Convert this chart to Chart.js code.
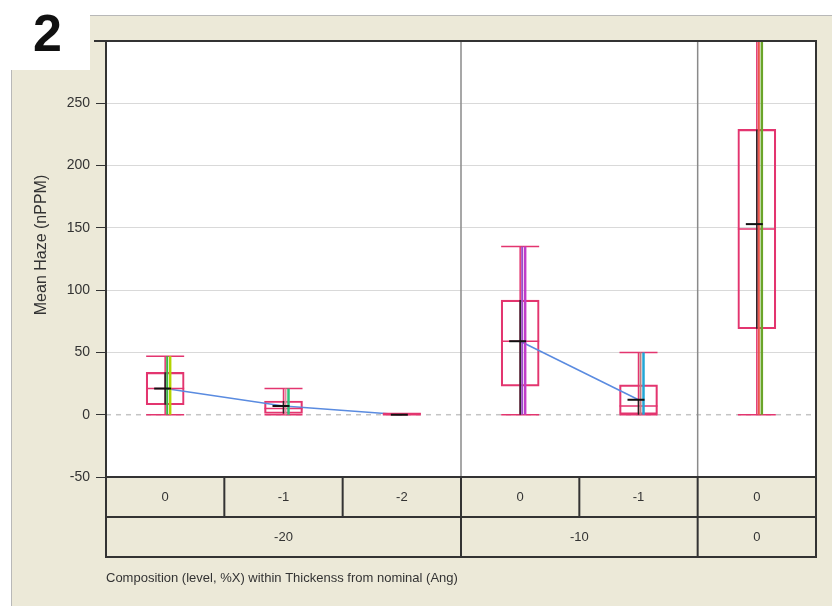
<!DOCTYPE html>
<html>
<head>
<meta charset="utf-8">
<script src="https://cdn.jsdelivr.net/npm/chart.js@4.4.0/dist/chart.umd.min.js"></script>
<style>
  body { margin: 0; background: #fff; }
  #wrap { width: 832px; height: 606px; }
</style>
</head>
<body>
<div id="wrap"><canvas id="haze" width="832" height="606"></canvas></div>
<script>
// composition level (inner) and thickness (outer) per cell
const levels = ["0", "-1", "-2", "0", "-1", "0"];
const thickness = ["-20", "-20", "-20", "-10", "-10", "0"];

// box plot summary, Mean Haze (nPPM)
const whiskerLo = [0, 0, 0, 0, 0, 0];
const whiskerHi = [47, 21, 1, 135, 50, 340];
const q1 = [8, 1, 0, 23, 0, 69];
const q3 = [34, 11, 1, 92, 24, 229];
const medians = [21, 5, 0, 59, 7, 149];
const means = [21, 7, 0, 59, 12, 153];
const sdLo = [8, 1, 0, 0, 0, 69];
const sdHi = [34, 11, 0, 92, 12, 229];

// range lines drawn next to each box
const rangeHi = [47, 21, 0, 135, 50, 340];
const rangeColor = ["#b4d400", "#2fc07a", "#8080c0", "#c23cc8", "#22a6d6", "#6aa52a"];
const rangeColor2 = ["#3cb04a", "#e58aa0", "#8080c0", "#9a4cc8", "#c08080", "#e8564a"];

const yTicks = [-50, 0, 50, 100, 150, 200, 250];

const BEIGE = "#ece9d8";
const PINK = "#e3356f";
const FONT = "'Liberation Sans', Arial, sans-serif";

// one mean line per thickness group
const groups = [...new Set(thickness)];
const meanSets = groups.map(g => ({
  type: "line",
  data: means.map((m, i) => thickness[i] === g ? m : null),
  borderColor: "#5a8be0",
  borderWidth: 1.5,
  pointRadius: 0,
  spanGaps: false,
  order: 1
}));

const backdrop = {
  id: "backdrop",
  beforeDraw(chart) {
    const { ctx, chartArea: a } = chart;
    ctx.save();
    ctx.fillStyle = "#fff";
    ctx.fillRect(0, 0, chart.width, chart.height);
    ctx.fillStyle = BEIGE;
    ctx.fillRect(12, 16, chart.width - 12, chart.height - 16);
    ctx.fillStyle = "#fff";
    ctx.fillRect(0, 0, 90, 70);
    ctx.strokeStyle = "#b8b8b8";
    ctx.lineWidth = 1;
    ctx.beginPath();
    ctx.moveTo(90, 15.5); ctx.lineTo(chart.width, 15.5);
    ctx.moveTo(11.5, 70); ctx.lineTo(11.5, chart.height);
    ctx.stroke();
    ctx.fillStyle = "#fff";
    ctx.fillRect(a.left, a.top, a.right - a.left, a.bottom - a.top);
    ctx.fillStyle = "#111";
    ctx.font = "bold 52px " + FONT;
    ctx.textBaseline = "alphabetic";
    ctx.fillText("2", 33, 51);
    // y axis title
    ctx.save();
    ctx.translate(42, 245);
    ctx.rotate(-Math.PI / 2);
    ctx.fillStyle = "#333";
    ctx.font = "16px " + FONT;
    ctx.textAlign = "center";
    ctx.textBaseline = "middle";
    ctx.fillText("Mean Haze (nPPM)", 0, 0);
    ctx.restore();
    ctx.restore();
  },
  beforeDatasetsDraw(chart) {
    const { ctx, chartArea: a, scales: { x, y } } = chart;
    ctx.save();
    // zero reference line
    ctx.strokeStyle = "#c4c4c4";
    ctx.setLineDash([5, 5]);
    ctx.lineWidth = 1.5;
    const y0 = y.getPixelForValue(0);
    ctx.beginPath();
    ctx.moveTo(a.left, y0); ctx.lineTo(a.right, y0);
    ctx.stroke();
    ctx.setLineDash([]);
    // group separators
    ctx.strokeStyle = "#8a8a8a";
    ctx.lineWidth = 1.5;
    for (let i = 0; i < thickness.length - 1; i++) {
      if (thickness[i] !== thickness[i + 1]) {
        const sx = (x.getPixelForValue(i) + x.getPixelForValue(i + 1)) / 2;
        ctx.beginPath();
        ctx.moveTo(sx, a.top); ctx.lineTo(sx, a.bottom);
        ctx.stroke();
      }
    }
    ctx.restore();
  },
  afterDatasetsDraw(chart) {
    const { ctx, chartArea: a, scales: { x, y } } = chart;
    const half = 19;
    ctx.save();
    ctx.beginPath();
    ctx.rect(a.left, a.top, a.right - a.left, a.bottom - a.top);
    ctx.clip();
    levels.forEach((_, i) => {
      const cx = x.getPixelForValue(i);
      const py = v => y.getPixelForValue(v);
      // whiskers and caps
      ctx.strokeStyle = PINK;
      ctx.lineWidth = 1.5;
      ctx.beginPath();
      ctx.moveTo(cx, py(whiskerLo[i])); ctx.lineTo(cx, py(whiskerHi[i]));
      ctx.moveTo(cx - half, py(whiskerLo[i])); ctx.lineTo(cx + half, py(whiskerLo[i]));
      ctx.moveTo(cx - half, py(whiskerHi[i])); ctx.lineTo(cx + half, py(whiskerHi[i]));
      ctx.moveTo(cx - half, py(medians[i])); ctx.lineTo(cx + half, py(medians[i]));
      ctx.stroke();
      // std dev line
      ctx.strokeStyle = "#222";
      ctx.lineWidth = 1.5;
      ctx.beginPath();
      ctx.moveTo(cx, py(sdLo[i])); ctx.lineTo(cx, py(sdHi[i]));
      ctx.stroke();
      // coloured range lines
      ctx.lineWidth = 2;
      ctx.strokeStyle = rangeColor2[i];
      ctx.beginPath();
      ctx.moveTo(cx + 2, py(whiskerLo[i])); ctx.lineTo(cx + 2, py(rangeHi[i]));
      ctx.stroke();
      ctx.lineWidth = 2.5;
      ctx.strokeStyle = rangeColor[i];
      ctx.beginPath();
      ctx.moveTo(cx + 5, py(whiskerLo[i])); ctx.lineTo(cx + 5, py(rangeHi[i]));
      ctx.stroke();
      // mean marker
      ctx.strokeStyle = "#111";
      ctx.lineWidth = 2;
      ctx.beginPath();
      ctx.moveTo(cx - 11, py(means[i])); ctx.lineTo(cx + 6, py(means[i]));
      ctx.stroke();
    });
    ctx.restore();
  },
  afterDraw(chart) {
    const { ctx, chartArea: a, scales: { x } } = chart;
    const r1 = a.bottom, r2 = a.bottom + 40, r3 = a.bottom + 80;
    const step = (x.getPixelForValue(1) - x.getPixelForValue(0));
    const edge = i => x.getPixelForValue(i) - step / 2;
    ctx.save();
    ctx.fillStyle = BEIGE;
    ctx.fillRect(a.left, r1, a.right - a.left, r3 - r1);
    ctx.fillStyle = "#333";
    ctx.font = "13px " + FONT;
    ctx.textAlign = "center";
    ctx.textBaseline = "middle";
    levels.forEach((l, i) => ctx.fillText(l, x.getPixelForValue(i), (r1 + r2) / 2));
    groups.forEach(g => {
      const idx = thickness.map((t, i) => t === g ? i : -1).filter(i => i >= 0);
      const gx = (edge(idx[0]) + edge(idx[idx.length - 1] + 1)) / 2;
      ctx.fillText(g, gx, (r2 + r3) / 2);
    });
    ctx.strokeStyle = "#333";
    ctx.lineWidth = 2;
    ctx.beginPath();
    ctx.moveTo(a.left, r2); ctx.lineTo(a.right, r2);
    for (let i = 1; i < levels.length; i++) {
      const ex = edge(i);
      ctx.moveTo(ex, r1);
      ctx.lineTo(ex, thickness[i] !== thickness[i - 1] ? r3 : r2);
    }
    ctx.stroke();
    ctx.strokeRect(a.left, r1, a.right - a.left, r3 - r1);
    // plot frame
    ctx.beginPath();
    ctx.moveTo(a.left - 12, a.top); ctx.lineTo(a.right, a.top);
    ctx.lineTo(a.right, a.bottom);
    ctx.moveTo(a.left, a.top); ctx.lineTo(a.left, a.bottom);
    ctx.stroke();
    ctx.textAlign = "left";
    ctx.font = "13px " + FONT;
    ctx.fillText("Composition (level, %X) within Thickenss from nominal (Ang)", a.left, r3 + 21);
    ctx.restore();
  }
};

new Chart(document.getElementById("haze"), {
  type: "bar",
  data: {
    labels: levels,
    datasets: [
      {
        data: q1.map((v, i) => [v, q3[i]]),
        backgroundColor: "rgba(0,0,0,0)",
        borderColor: PINK,
        borderWidth: 1.5,
        borderSkipped: false,
        barThickness: 38,
        order: 2
      },
      ...meanSets
    ]
  },
  options: {
    responsive: false,
    animation: false,
    events: [],
    layout: { padding: { left: 30, top: 41, right: 16, bottom: 129 } },
    plugins: { legend: { display: false }, tooltip: { enabled: false } },
    scales: {
      x: { display: false },
      y: {
        min: -50,
        max: 300,
        afterFit(scale) { scale.width = 76; },
        afterBuildTicks(scale) { scale.ticks = yTicks.map(v => ({ value: v })); },
        ticks: { color: "#333", font: { family: FONT, size: 14 }, padding: 6 },
        grid: {
          color: ctx => ctx.tick && ctx.tick.value === 0 ? "rgba(0,0,0,0)" : "#d9d9d9",
          tickColor: "#333",
          tickLength: 10,
          lineWidth: 1
        },
        border: { color: "#333", width: 2 },
        title: { display: false }
      }
    }
  },
  plugins: [backdrop]
});
</script>
</body>
</html>
